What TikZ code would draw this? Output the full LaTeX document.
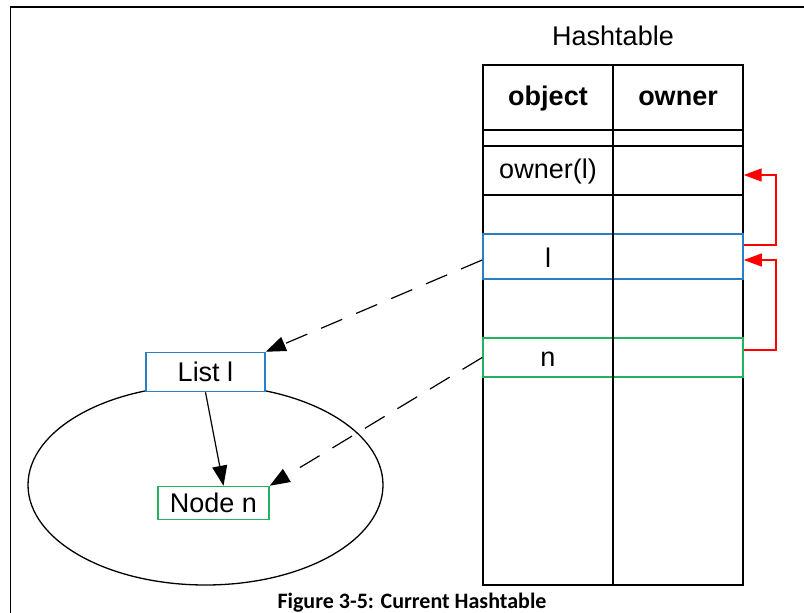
\documentclass[tikz,border=0pt]{standalone}
\usepackage{fontspec}
\setmainfont{Liberation Sans}
\newfontfamily\capfont{Carlito}
\usetikzlibrary{arrows.meta,positioning,shapes.geometric}
\definecolor{listblue}{HTML}{2A7FC4}
\definecolor{nodegreen}{HTML}{22B35E}
\tikzset{>=Latex,
  every node/.style={font=\fontsize{27}{30}\selectfont,inner sep=0pt},
  tabline/.style={draw=black,line width=1.4pt},
  rowbox/.style={draw,line width=1.6pt,minimum width=260pt},
  listbox/.style={draw,fill=white,line width=1.5pt},
  dashref/.style={->,>={Triangle[length=20pt,width=15pt]},dash pattern=on 23pt off 15pt,line width=1.2pt},
  solidref/.style={->,>={Triangle[length=20pt,width=15pt]},line width=1.2pt},
  redref/.style={->,>={Triangle[length=18pt,width=13pt]},draw=red,line width=1.4pt}}
\begin{document}
\begin{tikzpicture}[x=1pt,y=-1pt]
\useasboundingbox (0,0) rectangle (804,613);
% page frame
\draw[line width=1.3pt] (10.7,613) -- (10.7,7.3);
\draw[line width=2pt] (10,7.3) -- (804,7.3);

% hashtable
\node (title) at (613,36) {Hashtable};
\node[tabline,minimum width=260pt,minimum height=520pt] (tbl) at (613,325) {};
\node[tabline,minimum width=260pt,minimum height=65pt] (head) at (613,97.5) {};
\node[tabline,minimum width=260pt,minimum height=16pt] (gap) at (613,138) {};
\node[tabline,minimum width=260pt,minimum height=49pt] (owrow) at (613,170.5) {};
\node[rowbox,draw=listblue,minimum height=45pt] (lrow) at (613,256.5) {};
\node[rowbox,draw=nodegreen,minimum height=39pt] (nrow) at (613,357.5) {};
\draw[tabline] (tbl.north) -- (tbl.south);
\node[anchor=base] (tobj) at (548,105) {\bfseries object};
\node[anchor=base] (town) at (678,105) {\bfseries owner};
\node[anchor=base] (tow) at (548,178) {owner(l)};
\node[anchor=base] (tl) at (548,267.5) {l};
\node[anchor=base] (tn) at (548,366) {n};

% list and its node
\node[ellipse,draw,line width=1.3pt,minimum width=355pt,minimum height=200pt] (heap) at (205.5,485) {};
\node[listbox,draw=listblue,minimum width=119pt,minimum height=39pt] (listl) at (205.5,372) {List l};
\node[listbox,draw=nodegreen,minimum width=111pt,minimum height=33pt] (noden) at (213.5,503) {Node n};

\draw[dashref] ([yshift=-3.5pt]lrow.west) -- (listl.north east);
\draw[dashref] (nrow.west) -- (noden.north east);
\draw[solidref] (listl.south) -- ([xshift=10pt]noden.north);
\draw[redref] ([yshift=11.5pt]lrow.east) -- ++(32,0) |- ([yshift=-4.5pt]owrow.east);
\draw[redref] ([yshift=7.5pt]nrow.east) -- ++(32,0) |- ([yshift=-3.5pt]lrow.east);

\node[anchor=base,font=\capfont\bfseries\fontsize{22}{25}\selectfont] (caption) at (412,608) {Figure 3-5: Current Hashtable};
\end{tikzpicture}
\end{document}
